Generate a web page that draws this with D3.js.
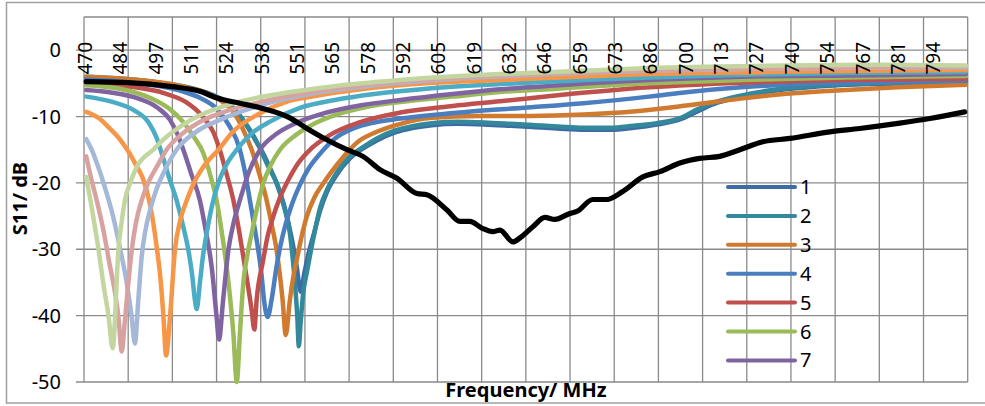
<!DOCTYPE html>
<html lang="en">
<head>
<meta charset="UTF-8">
<title>S11 vs Frequency</title>
<script src="https://cdn.jsdelivr.net/npm/d3@7"></script>
<style>
  html, body { margin: 0; padding: 0; background: #fff; }
  svg { display: block; font-family: "Noto Sans", sans-serif; }
</style>
</head>
<body>
<div id="chart"></div>
<script>
// --- data (MHz, dB) ---
var xTickLabels = ['470','484','497','511','524','538','551','565','578','592','605','619','632',
  '646','659','673','686','700','713','727','740','754','767','781','794'];
var yTicks = [0, -10, -20, -30, -40, -50];
var legendNames = ['1', '2', '3', '4', '5', '6', '7'];

var s1 = [[470,-4.1],[480,-4.3],[490,-4.6],[500,-5.1],[510,-5.8],[518,-6.8],[524,-8.0],[528,-9.6],[532,-11.8],[535,-13.8],[537.5,-15.5],[540,-17.6],[543,-20.3],[545.8,-23.7],[548.2,-27.8],[550.4,-32.6],[551.9,-36.4],[553.3,-33.6],[555,-30.5],[557,-27.6],[559.3,-24.2],[562,-21.3],[565.6,-18.8],[570.7,-16.3],[575,-15.0],[581,-13.6],[588,-12.4],[595,-11.7],[602,-11.3],[612,-11.1],[622,-11.2],[632,-11.4],[641,-11.6],[650,-11.8],[660,-12.0],[670,-12.0],[679,-11.7],[688,-11.2],[697,-10.4],[703,-9.3],[709,-8.2],[716,-7.4],[728,-6.4],[741,-5.75],[754,-5.35],[770,-5.1],[790,-4.95],[806,-4.85]];
var s2 = [[470,-4.0],[480,-4.2],[490,-4.5],[500,-5.0],[510,-5.7],[518,-6.7],[524,-7.9],[528,-9.5],[532,-11.7],[535,-13.7],[536.6,-15],[539.5,-17.5],[542.7,-20],[545.5,-23.5],[547.8,-27.6],[549.7,-35.1],[550.6,-40],[551.2,-44.6],[551.9,-41],[552.9,-36.5],[554.2,-33.6],[556.1,-29.6],[557.4,-27.1],[559.3,-23.8],[562,-21],[565.6,-18.5],[570.7,-16],[575,-14.8],[581,-13.3],[588,-12.1],[595,-11.4],[602,-11.0],[612,-10.8],[622,-10.9],[632,-11.1],[641,-11.3],[650,-11.5],[660,-11.7],[670,-11.7],[679,-11.4],[688,-11.0],[697,-10.2],[703,-9.0],[709,-8.0],[716,-7.2],[728,-6.25],[741,-5.6],[754,-5.25],[770,-5.0],[790,-4.85],[806,-4.75]];
var s3 = [[470,-4.0],[490,-4.5],[505,-5.3],[515,-6.3],[521,-7.5],[526,-9.2],[529.5,-11.6],[533.2,-15],[536,-18.5],[538.9,-22.6],[540.8,-26.2],[542.7,-30.1],[544,-34],[545,-37.6],[546.2,-42.9],[547.8,-37.6],[549,-34.4],[550.4,-31.6],[552.2,-28.2],[554.2,-25.1],[557,-22.3],[560.5,-20.1],[566.3,-17.0],[573.8,-13.8],[581,-12.3],[590,-11.1],[602,-10.2],[620,-9.9],[640,-9.9],[660,-9.7],[680,-9.2],[700,-8.3],[720,-7.3],[740,-6.5],[760,-6.0],[780,-5.6],[806,-5.2]];
var s4 = [[470,-4.4],[490,-5.0],[505,-6.0],[514,-7.3],[520,-8.9],[524.5,-11.3],[528.7,-15],[530.7,-18.5],[532.5,-22.6],[534.2,-26.5],[535.7,-30.1],[537,-34],[537.9,-37.6],[539.3,-40.2],[540.8,-37.6],[542.7,-32.6],[544.2,-29.4],[545.9,-26.6],[548.5,-23.3],[551.6,-20.3],[555,-17.8],[559.3,-15.6],[565,-13.3],[572,-11.8],[580,-10.9],[590,-10.3],[615,-9.3],[640,-8.6],[660,-8.0],[685,-7.0],[700,-6.3],[720,-5.6],[750,-5.0],[780,-4.75],[806,-4.6]];
var s5 = [[470,-4.8],[485,-5.4],[500,-6.5],[508,-7.8],[514,-9.8],[518.5,-12.3],[521,-15],[523.5,-18.5],[526.2,-22.6],[528.5,-27.5],[530.6,-32.6],[533.2,-39.2],[534.2,-42.1],[535.1,-37.6],[537.6,-31.6],[539.3,-28],[541.4,-25.1],[543.8,-22.4],[546.5,-20.1],[551,-17],[556,-14.8],[563,-12.8],[575,-10.8],[590,-9.4],[610,-8.4],[628,-7.7],[650,-6.8],[685,-5.6],[720,-4.9],[760,-4.5],[806,-4.3]];
var s6 = [[470,-5.3],[485,-6.0],[495,-7.3],[502,-8.9],[507,-10.8],[511,-13.0],[514.7,-15.5],[517.5,-19],[519.8,-22.6],[521.8,-27.5],[523.6,-32.6],[525,-37.5],[526.2,-42.7],[527.5,-50],[528.7,-42.7],[530,-35.1],[531.5,-31],[533.2,-27.6],[535.3,-23.7],[537.6,-20.1],[540.5,-17.3],[544,-15],[550,-12.8],[556,-11.3],[565,-9.8],[578,-8.5],[590,-7.8],[610,-7.0],[628,-6.3],[650,-5.8],[685,-5.0],[720,-4.5],[760,-4.1],[806,-3.9]];
var s7 = [[470,-6.0],[480,-6.4],[490,-7.3],[497,-8.6],[502,-10.5],[505,-12.8],[507.1,-15],[510,-18.5],[513.4,-22.6],[515.8,-27.5],[517.9,-32.6],[519.8,-40.2],[520.7,-43.6],[522.3,-37.6],[524.3,-30.1],[526.3,-26],[528.7,-22.6],[532,-18.5],[536.4,-15],[542,-12.8],[550,-11.0],[560,-9.6],[575,-8.3],[590,-7.5],[610,-6.6],[628,-5.9],[650,-5.3],[685,-4.5],[720,-4.0],[760,-3.8],[806,-3.6]];
var s8 = [[470,-7.0],[480,-7.8],[488,-9.0],[494,-11.0],[497,-13.3],[498.8,-15.5],[501.5,-19],[504.5,-22.6],[507,-26.5],[509,-30.1],[510.5,-34],[511.5,-37.6],[512.2,-39.0],[513.4,-35.1],[514.6,-31],[516,-27.6],[518,-23.5],[520.4,-20.1],[523.5,-17.3],[527.5,-15],[533,-12.6],[540,-10.8],[551.6,-8.7],[565,-7.5],[580,-6.6],[600,-5.8],[628,-5.1],[660,-4.5],[685,-4.1],[720,-3.7],[760,-3.45],[806,-3.3]];
var s9 = [[470,-9.3],[475,-10.3],[479,-11.8],[483,-13.5],[486,-15.2],[489,-17.3],[491.8,-19.5],[494.5,-23.5],[496.9,-29.6],[498.5,-35],[499.5,-40.2],[500.5,-46],[502,-40.2],[503.9,-30.1],[506,-25.5],[508.4,-22.6],[511.5,-19.7],[514.7,-17.6],[520.5,-15],[526,-12.3],[536.4,-9.5],[547,-7.7],[557.4,-6.9],[575,-5.9],[600,-5.0],[628,-4.5],[660,-3.95],[685,-3.6],[730,-3.3],[770,-3.1],[806,-3.0]];
var s10 = [[470,-13.4],[472.1,-15],[474.5,-17.5],[477,-20.5],[480.3,-25.1],[483,-30],[485.5,-35.1],[487.3,-40],[488.6,-44.2],[489.9,-37.6],[491.2,-31.1],[492.6,-27.2],[494.4,-24.1],[496.8,-21],[499.4,-18.6],[504.5,-15],[512,-12.3],[521.1,-10.5],[535,-8.5],[550,-7.0],[563,-6.1],[580,-5.3],[600,-4.6],[628,-3.95],[660,-3.4],[685,-3.1],[730,-2.8],[770,-2.65],[806,-2.6]];
var s11 = [[470,-16.0],[472,-19.5],[474,-22.6],[476.5,-27],[479.1,-32.6],[481,-36.5],[482.3,-40.2],[483.6,-45.4],[484.6,-41.5],[485.5,-37.6],[487.4,-30.1],[489,-26],[491.2,-22.6],[494,-19.7],[496.9,-17.6],[500.7,-15],[507,-12.5],[515,-10.5],[525,-9.0],[540,-7.5],[563,-5.9],[580,-5.1],[600,-4.4],[628,-3.8],[660,-3.3],[685,-3.0],[730,-2.75],[770,-2.6],[806,-2.5]];
var s12 = [[470,-19.1],[472.7,-25.1],[474.5,-29.5],[476.5,-35.1],[478.5,-40],[480.1,-44.9],[481,-40.5],[481.6,-35.1],[482.3,-30.1],[483.5,-26],[484.8,-22.6],[487,-19.8],[489.3,-17.6],[495.6,-15],[499.4,-13.5],[510,-10.5],[526.2,-8.0],[545,-6.5],[563.1,-5.5],[589.8,-4.5],[628,-3.6],[660,-3.1],[685,-2.7],[730,-2.35],[770,-2.2],[806,-2.3]];
var sBlack = [[470,-4.75],[485.9,-4.9],[502.8,-5.5],[513.4,-6.2],[519.9,-7.2],[528.7,-8.0],[536.7,-8.7],[547.8,-10.2],[553.5,-11.6],[561.9,-13.5],[569.6,-15.0],[575.7,-16.0],[582.2,-18.0],[588.7,-19.3],[596.3,-21.6],[600.1,-21.8],[607.8,-24.1],[612.7,-25.8],[616.5,-25.8],[621.1,-26.8],[625.3,-27.35],[628,-27.1],[633,-28.9],[635.6,-28.3],[640.6,-26.6],[645.2,-25.2],[649,-25.5],[654.7,-24.6],[657.4,-24.3],[663.5,-22.5],[668.8,-22.5],[674.9,-21.3],[682.6,-19.1],[689.1,-18.3],[696.7,-17.0],[704.3,-16.3],[712,-16.0],[719.6,-15.0],[728.4,-13.8],[738.7,-13.3],[754,-12.3],[765.4,-11.8],[780.7,-11.0],[792.2,-10.3],[805.5,-9.3]];

var seriesData = [s1, s2, s3, s4, s5, s6, s7, s8, s9, s10, s11, s12, sBlack];
var seriesColors = ['#3d6ba6', '#33889b', '#d07a30', '#4a7ebf', '#c0504d', '#9bbb59', '#8064a2',
  '#4bacc6', '#f79646', '#a5b8d8', '#d8a2a1', '#c3d6a0', '#000000'];

// --- layout ---
var width = 985, height = 406;
var plot = { left: 84, right: 967.7, top: 17, bottom: 382 };
var catStep = 1.6875; // MHz per category, 200 categories

var svg = d3.select('#chart').append('svg')
  .attr('width', width)
  .attr('height', height);

var x = d3.scaleLinear()
  .domain([470 - catStep / 2, 470 + 199.5 * catStep])
  .range([plot.left, plot.right]);
var y = d3.scaleLinear()
  .domain([-50, 5])
  .range([plot.bottom, plot.top]);

// chart border
svg.append('rect')
  .attr('x', 6.5).attr('y', 2.5)
  .attr('width', 990).attr('height', 400.5)
  .attr('fill', 'none')
  .attr('stroke', '#a0a0a0')
  .attr('stroke-width', 1.5);

// grid
var grid = svg.append('g').attr('stroke', '#8a8a8a').attr('stroke-width', 1.3);
d3.range(21).forEach(function (k) {
  var gx = x(x.domain()[0] + k * 10 * catStep);
  grid.append('line').attr('x1', gx).attr('x2', gx).attr('y1', plot.top).attr('y2', plot.bottom);
});
yTicks.concat([5]).forEach(function (v) {
  grid.append('line').attr('x1', v === 5 ? plot.left : plot.left - 8).attr('x2', plot.right)
    .attr('y1', y(v)).attr('y2', y(v));
});

// y tick labels
svg.append('g').selectAll('text')
  .data(yTicks)
  .enter().append('text')
  .attr('x', 61)
  .attr('y', function (d) { return y(d); })
  .attr('dy', '0.35em')
  .attr('text-anchor', 'end')
  .attr('font-size', 20)
  .text(function (d) { return d; });

// series
var line = d3.line()
  .x(function (d) { return x(d[0]); })
  .y(function (d) { return y(d[1]); })
  .curve(d3.curveMonotoneX);

svg.append('g').selectAll('path')
  .data(seriesData)
  .enter().append('path')
  .attr('d', line)
  .attr('fill', 'none')
  .attr('stroke', function (d, i) { return seriesColors[i]; })
  .attr('stroke-width', function (d, i) { return i === 12 ? 5.2 : 4.5; })
  .attr('stroke-linecap', 'round')
  .attr('stroke-linejoin', 'round');

// x tick labels (every 8th category, rotated), drawn over the curves
svg.append('g').selectAll('text')
  .data(xTickLabels)
  .enter().append('text')
  .attr('transform', function (d, i) {
    return 'translate(' + (x(470 + i * 8 * catStep) - 1) + ',42) rotate(-90)';
  })
  .attr('dy', '0.35em')
  .attr('text-anchor', 'end')
  .attr('font-size', 19)
  .text(function (d) { return d; });

// legend (only first seven entries visible)
var legend = svg.append('g').selectAll('g')
  .data(legendNames)
  .enter().append('g')
  .attr('transform', function (d, i) { return 'translate(728,' + (187 + i * 28.9) + ')'; });
legend.append('line')
  .attr('x1', 0).attr('x2', 67)
  .attr('stroke', function (d, i) { return seriesColors[i]; })
  .attr('stroke-width', 4)
  .attr('stroke-linecap', 'round');
legend.append('text')
  .attr('x', 72)
  .attr('dy', '0.35em')
  .attr('font-size', 20)
  .text(function (d) { return d; });

// axis titles
var yTitle = svg.append('g').attr('transform', 'translate(27,198.5) rotate(-90)');
var yTitleText = yTitle.append('text')
  .attr('text-anchor', 'middle')
  .attr('font-size', 20)
  .attr('font-weight', 'bold')
  .text('S11/ dB');
var bb = yTitleText.node().getBBox();
yTitle.insert('rect', 'text')
  .attr('x', bb.x).attr('y', bb.y + 3)
  .attr('width', bb.width).attr('height', bb.height - 5)
  .attr('fill', '#fff');

svg.append('text')
  .attr('x', 526)
  .attr('y', 397)
  .attr('text-anchor', 'middle')
  .attr('font-size', 20)
  .attr('font-weight', 'bold')
  .text('Frequency/ MHz');
</script>
</body>
</html>
